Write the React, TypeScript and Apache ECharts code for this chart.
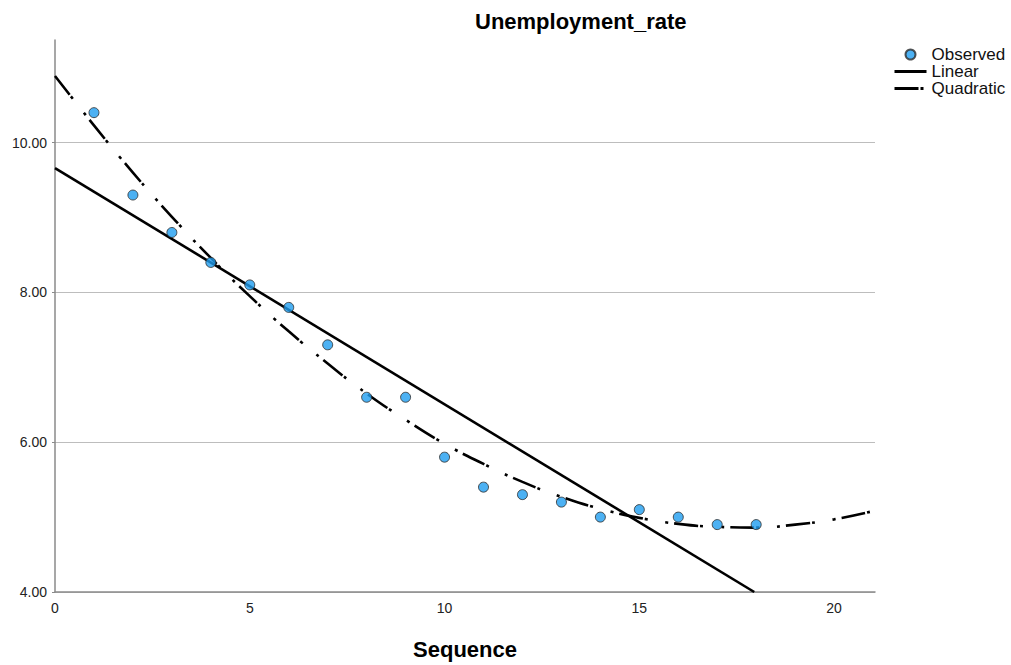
import React, { useEffect, useRef } from "react";
import * as echarts from "echarts";

const titleText = "Unemployment_rate";
const xAxisName = "Sequence";
const seriesNames = ["Observed", "Linear", "Quadratic"];

const observedX = [1, 2, 3, 4, 5, 6, 7, 8, 9, 10, 11, 12, 13, 14, 15, 16, 17, 18];
const observedY = [10.4, 9.3, 8.8, 8.4, 8.1, 7.8, 7.3, 6.6, 6.6, 5.8, 5.4, 5.3, 5.2, 5.0, 5.1, 5.0, 4.9, 4.9];

const linearX = [0, 17.95];
const linearY = [9.66, 4.0];

const quadX = [0, 1, 2, 3, 4, 5, 6, 7, 8, 9, 10, 11, 12, 13, 14, 15, 16, 17, 18, 19, 20, 21];
const quadY = [10.89, 10.23, 9.6, 9.01, 8.46, 7.95, 7.48, 7.05, 6.65, 6.3, 5.98, 5.71, 5.47, 5.27, 5.11, 4.99, 4.91, 4.87, 4.86, 4.9, 4.97, 5.08];

const yTicks = [4, 6, 8, 10];
const xTicks = [0, 5, 10, 15, 20];

export default function App() {
  const ref = useRef<HTMLDivElement>(null);
  useEffect(() => {
    if (!ref.current) return;
    const chart = echarts.init(ref.current, null, { renderer: "svg" });
    const font = "'Liberation Sans', Arial, sans-serif";
    chart.setOption({
      animation: false,
      backgroundColor: "#ffffff",
      textStyle: { fontFamily: font },
      title: {
        text: titleText,
        left: 475,
        top: 10,
        padding: 0,
        textStyle: { fontFamily: font, fontSize: 22, fontWeight: "bold", color: "#000", lineHeight: 22 },
      },
      legend: {
        orient: "vertical",
        left: 893,
        top: 46,
        padding: 0,
        itemGap: 0,
        itemWidth: 32,
        itemHeight: 10,
        data: [
          { name: seriesNames[0] },
          { name: seriesNames[1], itemStyle: { opacity: 0 }, lineStyle: { width: 3 } },
          { name: seriesNames[2], itemStyle: { opacity: 0 }, lineStyle: { width: 3 } },
        ],
        textStyle: { fontFamily: font, fontSize: 17, color: "#111", lineHeight: 16 },
      },
      grid: { left: 55, right: 136, top: 40, bottom: 68, containLabel: false },
      xAxis: {
        type: "value",
        min: 0,
        max: 21.05,
        interval: 5,
        name: xAxisName,
        nameLocation: "middle",
        nameGap: 46,
        nameTextStyle: { fontFamily: font, fontSize: 22, fontWeight: "bold", color: "#000", lineHeight: 22 },
        axisLine: { show: true, lineStyle: { color: "#8a8a8a", width: 1.5 } },
        axisTick: { show: false },
        splitLine: { show: false },
        axisLabel: {
          margin: 9,
          fontSize: 14,
          color: "#222",
          fontFamily: font,
          formatter: (v: number) => (xTicks.includes(v) ? String(v) : ""),
        },
      },
      yAxis: {
        type: "value",
        min: 4,
        max: 11.37,
        interval: 2,
        axisLine: { show: true, lineStyle: { color: "#8a8a8a", width: 1.5 } },
        axisTick: { show: true, length: 3, customValues: yTicks, lineStyle: { color: "#8a8a8a" } },
        splitLine: { show: true, lineStyle: { color: "#bdbdbd", width: 1 } },
        axisLabel: {
          margin: 8,
          fontSize: 14,
          color: "#222",
          fontFamily: font,
          customValues: yTicks,
          formatter: (v: number) => (yTicks.includes(v) ? v.toFixed(2) : ""),
        },
      },
      series: [
        {
          name: seriesNames[0],
          type: "scatter",
          data: observedX.map((x, i) => [x, observedY[i]]),
          symbol: "circle",
          symbolSize: 10,
          itemStyle: { color: "#1f9df0", borderColor: "#2a2a2a", borderWidth: 1 },
          z: 5,
        },
        {
          name: seriesNames[1],
          type: "line",
          data: linearX.map((x, i) => [x, linearY[i]]),
          symbol: "none",
          showSymbol: false,
          itemStyle: { color: "#000" },
          lineStyle: { color: "#000", width: 2.6 },
          z: 3,
        },
        {
          name: seriesNames[2],
          type: "line",
          data: quadX.map((x, i) => [x, quadY[i]]),
          symbol: "none",
          showSymbol: false,
          smooth: true,
          itemStyle: { color: "#000" },
          lineStyle: { color: "#000", width: 2.6, type: [24, 2, 3, 18, 3, 6] },
          z: 3,
        },
      ],
    });
    return () => chart.dispose();
  }, []);
  return (
    <div
      ref={ref}
      style={{ position: "fixed", left: 0, top: 0, width: 1011, height: 665, background: "#fff" }}
    />
  );
}
